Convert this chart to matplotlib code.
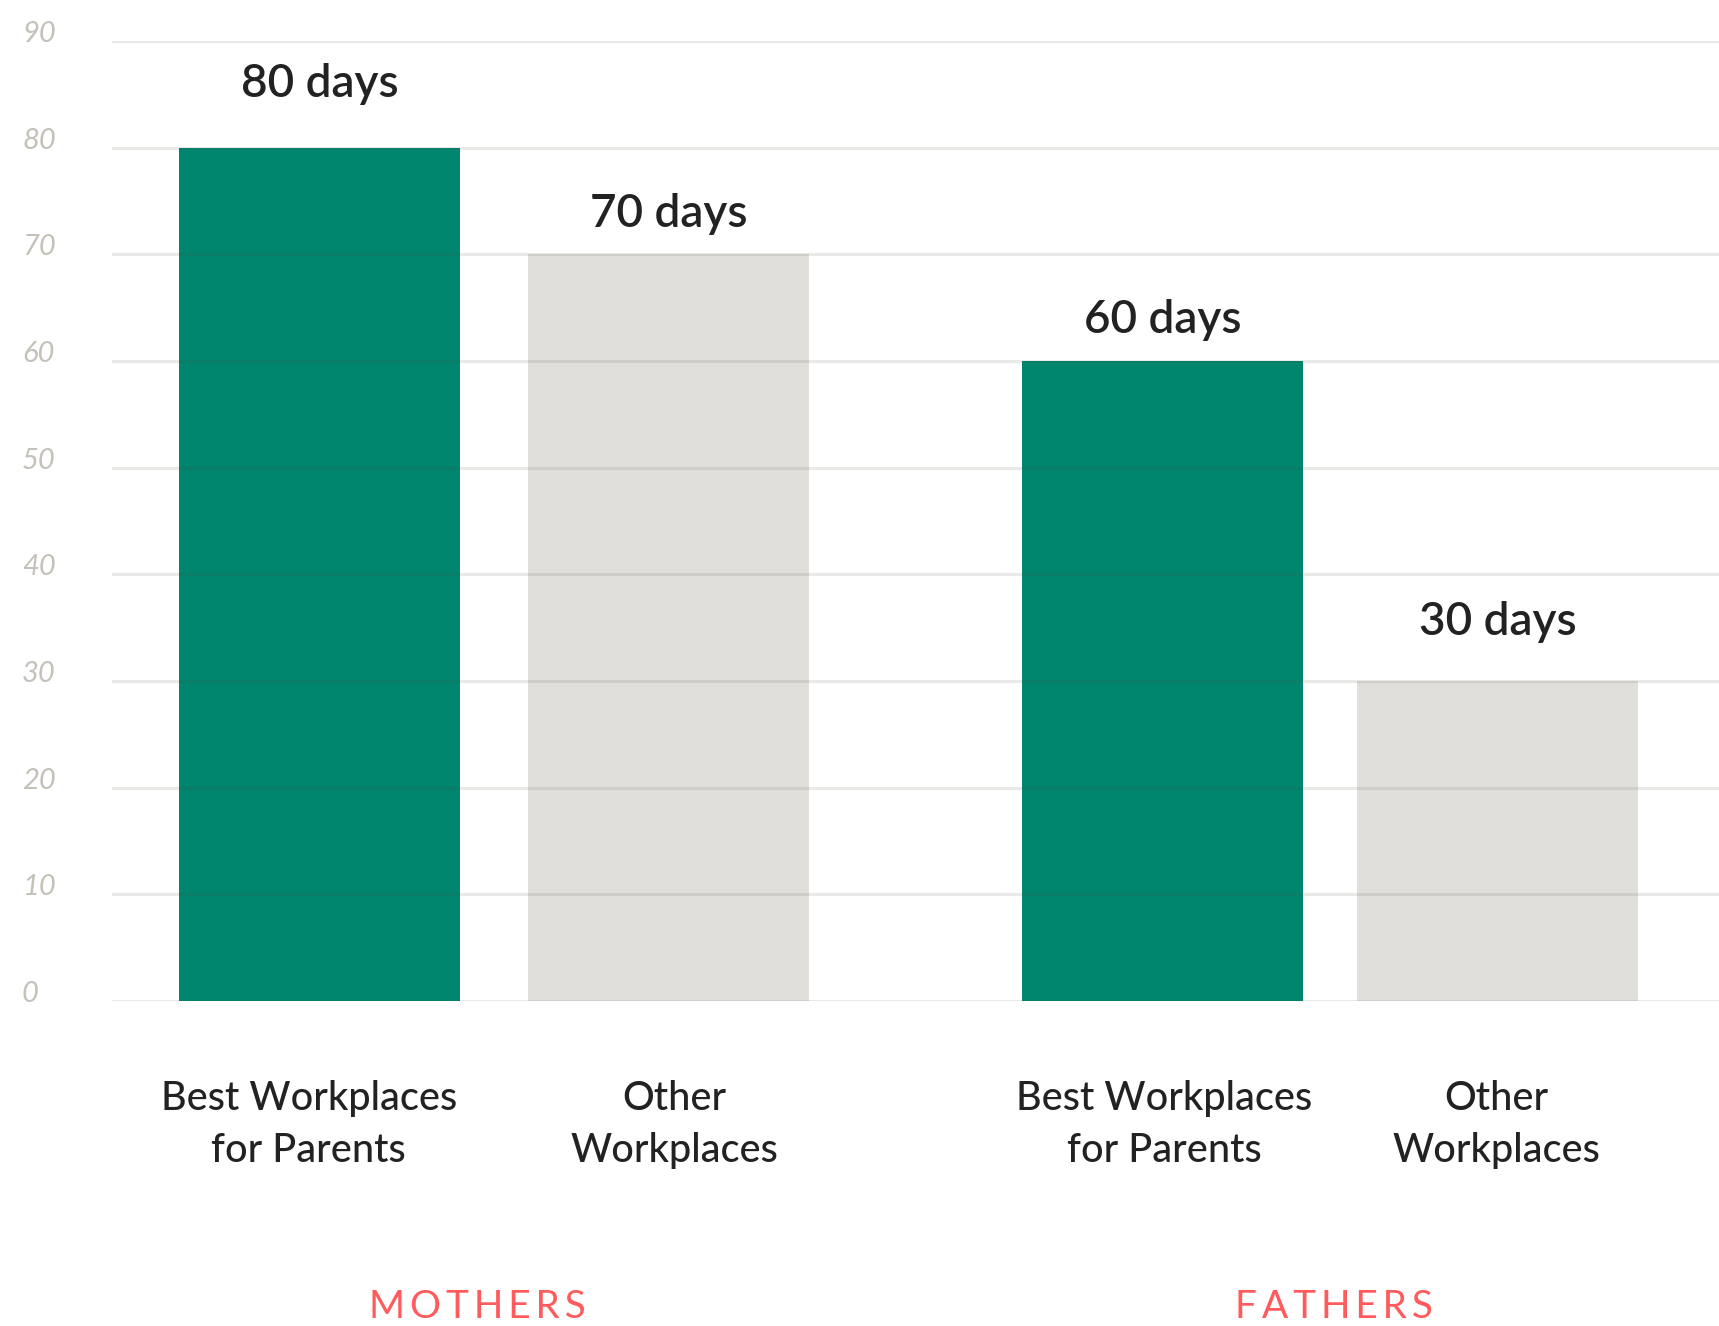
import matplotlib.pyplot as plt
from matplotlib.transforms import blended_transform_factory

# Data
categories = ["Best Workplaces\nfor Parents", "Other\nWorkplaces",
              "Best Workplaces\nfor Parents", "Other\nWorkplaces"]
leave_days = [80, 70, 60, 30]
value_labels = ["80 days", "70 days", "60 days", "30 days"]
groups = ["MOTHERS", "FATHERS"]
y_ticks = [0, 10, 20, 30, 40, 50, 60, 70, 80, 90]

# Layout / style
positions = [0.74, 1.98, 3.74, 4.93]
cat_label_x = [0.70, 2.0, 3.745, 4.925]
group_x = [1.30, 4.35]
label_offsets = [6.0, 3.75, 3.85, 5.5]
bar_colors = ["#00856f", "#e0dfda", "#00856f", "#e0dfda"]
text_color = "#222222"
group_color = "#ff5a5c"
tick_color = "#c4c1b8"
font = "Lato"

fig = plt.figure(figsize=(17.19, 13.26), dpi=100)
ax = fig.add_axes([112 / 1719, 325 / 1326, 1607 / 1719, 960 / 1326])

ax.bar(positions, leave_days, width=1.0, color=bar_colors, zorder=1)

# gridlines drawn over the bars, slightly transparent
for t in y_ticks:
    ax.axhline(t, color="#5a5648", alpha=0.13, lw=2.3, zorder=2)

ax.set_xlim(0, 1607 / 281)
ax.set_ylim(0, 90)
ax.axis("off")

ytr = blended_transform_factory(ax.transAxes, ax.transData)
for t in y_ticks:
    ax.text(-90 / 1607, t + 0.65, str(t), transform=ytr, ha="left", va="center",
            fontsize=21, fontstyle="italic", fontweight="normal",
            color=tick_color, family=font)

for x, v, lab, off in zip(positions, leave_days, value_labels, label_offsets):
    ax.text(x, v + off, lab, ha="center", va="center", fontsize=33,
            fontweight="semibold", color=text_color, family=font)

for x, cat in zip(cat_label_x, categories):
    ax.text(x, -11.6, cat, ha="center", va="center", fontsize=28.5,
            fontweight="medium", color=text_color, family=font,
            linespacing=1.5, clip_on=False)

for gx, g in zip(group_x, groups):
    ax.text(gx, -28.7, "\u2009".join(g), ha="center", va="center", fontsize=28,
            color=group_color, family=font, clip_on=False)

fig.savefig("out.png", dpi=100)
